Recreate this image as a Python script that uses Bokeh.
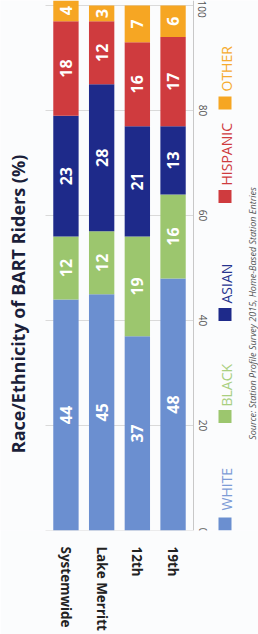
import math
from bokeh.plotting import figure
from bokeh.models import (ColumnDataSource, Range1d, FixedTicker, Label, LinearAxis)
from bokeh.core.properties import value
from bokeh.embed import file_html
from bokeh.resources import INLINE

# ---- data ----
stations = ["Systemwide", "Lake Merritt", "12th", "19th"]
groups = ["WHITE", "BLACK", "ASIAN", "HISPANIC", "OTHER"]
white = [44, 45, 37, 48]
black = [12, 12, 19, 16]
asian = [23, 28, 21, 13]
hispanic = [18, 12, 16, 17]
other = [4, 3, 7, 6]
value_ticks = [0, 20, 40, 60, 80, 100]
title_text = "Race/Ethnicity of BART Riders (%)"
source_text = "Source: Station Profile Survey 2015, Home-Based Station Entries"

colors = ["#6b8fd0", "#9cc66e", "#1e2a8a", "#cf3b3e", "#f6a623"]
legend_text_colors = ["#7d9bd6", "#a9cf80", "#27348f", "#cf3b3e", "#f6ab2f"]

series = [white, black, asian, hispanic, other]
idx = list(range(len(stations)))
data = {"pos": idx}
for g, s in zip(groups, series):
    data[g] = s
source = ColumnDataSource(data)

# ---- layout (pixels) ----
W, H = 258, 634
FRAME_BOTTOM = 530          # pixel row of value 0
PX_PER_UNIT = 5.25          # pixels per percentage point
CAT_STEP = 35.7             # pixels between category centres
CAT0 = 65.45                # pixel column of first category centre


def px_to_x(px):
    return (px - CAT0) / CAT_STEP


def px_to_y(py):
    return (FRAME_BOTTOM - py) / PX_PER_UNIT


BG = "#fbfcfd"
p = figure(width=W, height=H,
           x_range=Range1d(px_to_x(0), px_to_x(W)),
           y_range=Range1d(0, px_to_y(0)),
           y_axis_location=None,
           output_backend="svg", toolbar_location=None,
           min_border_left=0, min_border_right=0,
           min_border_top=0, min_border_bottom=H - FRAME_BOTTOM)
p.background_fill_color = BG
p.border_fill_color = BG
p.outline_line_color = None
for g in p.grid:
    g.visible = False

AX_X = px_to_x(193)     # value-axis location
GRID_X0 = px_to_x(45)

# grid lines (behind bars)
p.segment(x0=[GRID_X0] * len(value_ticks), x1=[AX_X] * len(value_ticks),
          y0=value_ticks, y1=value_ticks, line_color="#dadada", line_width=1)

p.vbar_stack(groups, x="pos", width=0.71, color=colors,
             line_color=None, source=source)

# value labels in segment middles
lx, ly, lt = [], [], []
for i in idx:
    base = 0
    for s in series:
        v = s[i]
        lx.append(i)
        ly.append(base + v / 2)
        lt.append(str(v))
        base += v
lab_src = ColumnDataSource(dict(x=lx, y=ly, t=lt))
p.text(x="x", y="y", text="t", source=lab_src, angle=math.pi / 2,
       text_align="center", text_baseline="middle",
       text_color="white", text_font_size="16px", text_font_style="bold",
       text_font=value("Open Sans"))

# value axis at fixed location
yax = LinearAxis(fixed_location=AX_X, ticker=FixedTicker(ticks=value_ticks))
yax.axis_line_color = "#c8c8c8"
yax.major_tick_line_color = "#c8c8c8"
yax.major_tick_in = 0
yax.major_tick_out = 0
yax.minor_tick_line_color = None
yax.major_label_orientation = "vertical"
yax.major_label_standoff = 5
yax.major_label_text_font = "Open Sans"
yax.major_label_text_font_size = "10px"
yax.major_label_text_color = "#555555"
p.add_layout(yax, "right")

# category axis
xax = p.xaxis[0]
xax.ticker = FixedTicker(ticks=idx)
xax.major_label_overrides = {i: s for i, s in zip(idx, stations)}
xax.axis_line_color = None
xax.major_tick_line_color = None
xax.minor_tick_line_color = None
xax.major_label_orientation = "vertical"
xax.major_label_standoff = 10
xax.major_label_text_font = "Open Sans"
xax.major_label_text_font_style = "bold"
xax.major_label_text_font_size = "13.5px"
xax.major_label_text_color = "#222222"

# title (rotated)
p.add_layout(Label(x=17.5, y=FRAME_BOTTOM - 303.5, x_units="screen", y_units="screen",
                   text=title_text, angle=math.pi / 2,
                   text_align="center", text_baseline="middle",
                   text_font="Open Sans", text_font_style="bold",
                   text_font_size="18px", text_color="#1b1f3a"))

# legend (rotated)
sq_centres_px = [523.5, 416, 314, 196, 102.5]
txt_start_px = [510, 406, 303, 185, 91]
p.rect(x=[px_to_x(224.5)] * len(groups), y=[px_to_y(v) for v in sq_centres_px],
       width=13, height=13, width_units="screen", height_units="screen",
       fill_color=colors, line_color=None)
for g, tc, ty in zip(groups, legend_text_colors, txt_start_px):
    p.add_layout(Label(x=226, y=FRAME_BOTTOM - ty, x_units="screen", y_units="screen",
                       text=g, angle=math.pi / 2,
                       text_align="left", text_baseline="middle",
                       text_font="Open Sans", text_font_size="14px",
                       text_color=tc))

# source note
p.add_layout(Label(x=252, y=FRAME_BOTTOM - 313, x_units="screen", y_units="screen",
                   text=source_text, angle=math.pi / 2,
                   text_align="center", text_baseline="middle",
                   text_font="Open Sans", text_font_style="italic",
                   text_font_size="9px", text_color="#555555"))

open("out.html", "w").write(file_html(p, INLINE))
